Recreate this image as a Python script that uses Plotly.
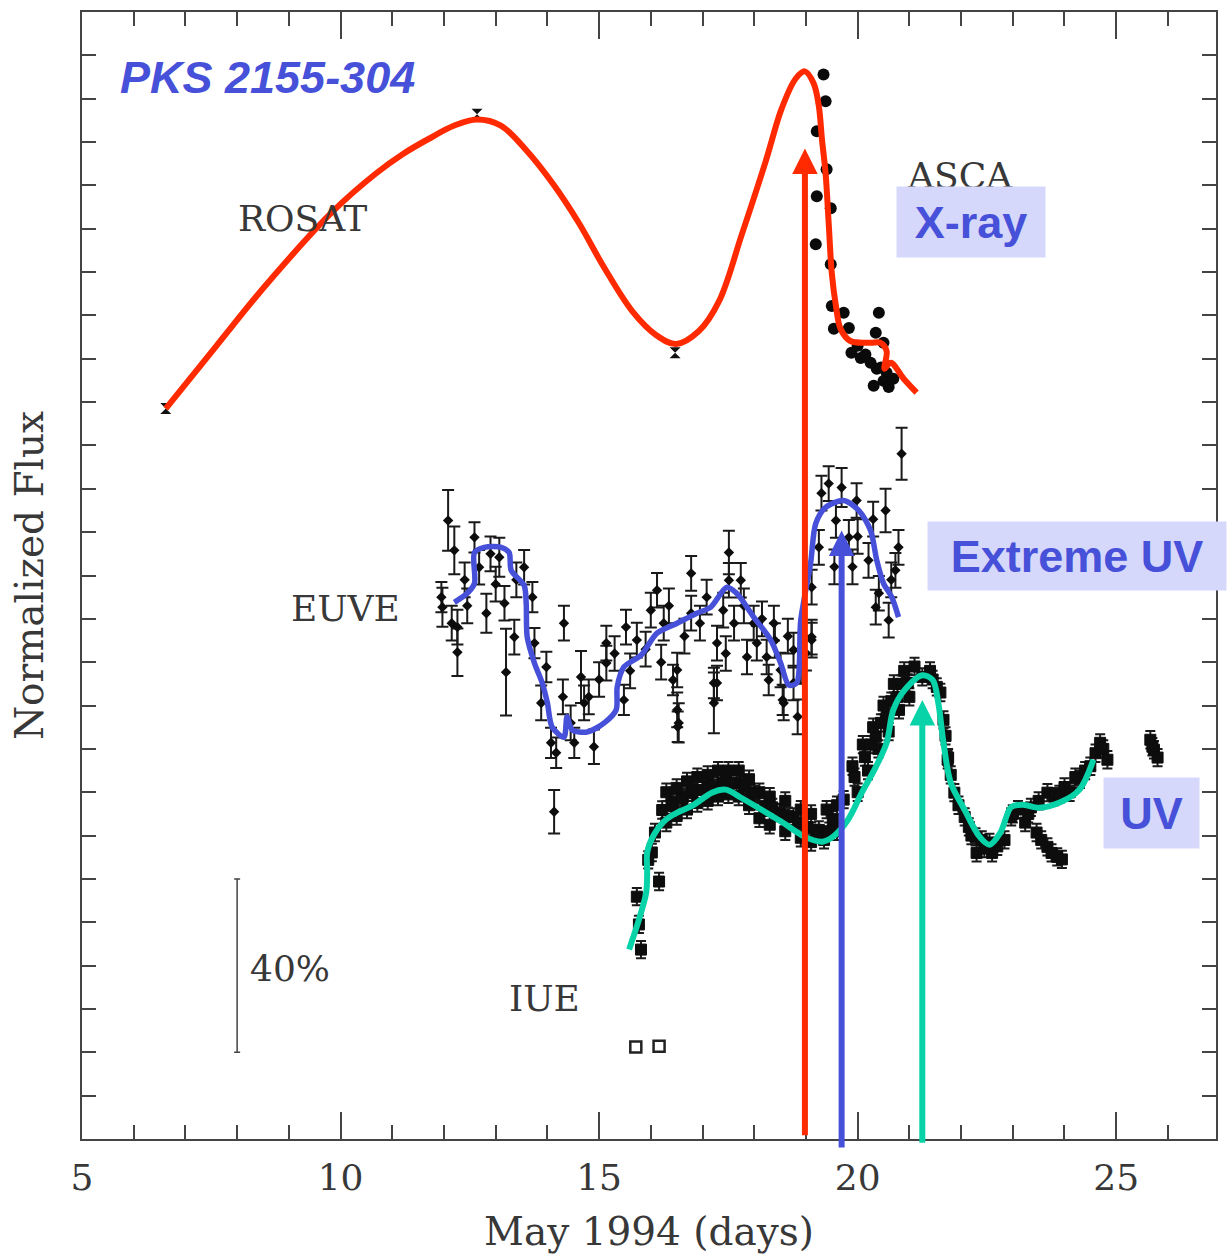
import plotly.graph_objects as go

# ---------------- data (days in May 1994, normalized flux in 10% units) ----------------
rosat_day = [6.62, 12.64, 16.47]
rosat_flux = [16.85, 23.64, 18.14]

asca_day = [19.34, 19.38, 19.21, 19.40, 19.21, 19.48, 19.19, 19.48, 19.50, 19.73, 19.54, 19.83,
            20.41, 20.35, 20.50, 19.88, 20.06, 20.25, 20.37, 20.56, 20.31, 20.50, 20.69,
            20.15, 20.45, 20.60, 20.00]
asca_flux = [24.56, 23.94, 23.25, 22.37, 21.75, 21.47, 20.64, 20.18, 19.22, 19.06, 18.69, 18.71,
             19.06, 18.60, 18.37, 18.14, 18.02, 17.91, 17.77, 17.68, 17.38, 17.49, 17.54,
             18.10, 17.80, 17.35, 18.30]

euve_day = [12.08, 12.20, 11.97, 12.26, 12.26, 11.95, 12.59, 12.82, 12.68, 13.07, 13.17, 13.20,
            13.36, 13.55, 13.71, 13.75, 13.98, 14.32, 13.88, 14.07, 14.17, 14.13, 14.52, 14.65,
            14.71, 14.90, 15.14, 15.14, 15.48, 15.52, 15.73, 16.00, 16.12, 16.25, 16.51, 16.51,
            16.54, 16.78, 16.78, 17.08, 17.28, 17.28, 17.22, 17.51, 17.51, 17.74, 17.61, 17.86,
            17.99, 18.05, 18.24, 18.38, 18.51, 18.57, 18.76, 18.76, 19.11, 16.43, 16.52, 17.22,
            18.55, 18.84, 18.28, 19.44, 19.69, 19.98, 19.58, 19.25, 19.83, 20.21, 20.54, 20.79,
            20.73, 20.41, 20.60, 20.35, 19.11, 19.11, 19.00, 20.85,
            15.30, 15.60, 15.90, 16.20, 16.35, 16.65, 16.95, 17.40, 17.45, 17.80, 18.15, 18.40,
            18.65, 18.90, 12.40, 12.90, 13.40, 13.00, 14.30, 14.45, 14.80, 15.00, 19.30, 19.55,
            20.00, 20.30, 20.65, 19.90, 12.15, 12.45]
euve_flux = [14.27, 13.58, 12.27, 11.81, 11.23, 12.50, 13.88, 12.13, 13.19, 13.42, 12.36, 10.77,
             11.58, 13.19, 12.50, 11.44, 10.89, 11.90, 10.06, 9.14, 8.91, 7.55, 9.14, 10.66,
             10.06, 9.05, 10.98, 11.44, 10.13, 11.81, 11.51, 12.20, 12.66, 11.90, 10.82, 9.90,
             9.60, 13.05, 12.13, 12.50, 11.44, 10.52, 10.06, 13.53, 12.89, 12.89, 11.90, 11.12,
             11.90, 11.44, 11.12, 11.90, 10.82, 10.06, 10.52, 11.28, 11.51, 10.59, 9.51, 10.52,
             10.13, 9.74, 10.59, 15.12, 15.03, 14.73, 14.27, 13.65, 13.88, 13.35, 14.50, 13.65,
             13.12, 12.59, 11.97, 12.27, 12.73, 11.58, 11.21, 15.81,
             11.20, 10.80, 11.30, 11.00, 12.30, 11.60, 11.90, 12.20, 11.20, 12.30, 12.00, 11.50,
             11.60, 10.90, 12.90, 13.50, 12.90, 12.80, 10.20, 9.60, 10.20, 10.60, 14.90, 13.20,
             13.90, 14.30, 12.90, 13.20, 11.90, 12.30]
euve_err = [0.70, 0.55, 0.45, 0.40, 0.55, 0.35, 0.35, 0.45, 0.40, 0.45, 0.40, 1.00,
            0.40, 0.40, 0.35, 0.35, 0.35, 0.40, 0.40, 0.35, 0.35, 0.50, 0.35, 0.60,
            0.40, 0.40, 0.40, 0.40, 0.35, 0.40, 0.40, 0.40, 0.40, 0.40, 0.40, 0.40,
            0.45, 0.40, 0.40, 0.40, 0.40, 0.40, 0.70, 0.50, 0.40, 0.40, 0.40, 0.40,
            0.40, 0.40, 0.40, 0.40, 0.40, 0.40, 0.40, 0.40, 0.40, 0.35, 0.35, 0.35,
            0.35, 0.40, 0.35, 0.40, 0.45, 0.40, 0.40, 0.40, 0.40, 0.40, 0.50, 0.40,
            0.40, 0.40, 0.40, 0.40, 0.40, 0.40, 0.40, 0.60,
            0.40, 0.40, 0.40, 0.40, 0.40, 0.40, 0.40, 0.40, 0.40, 0.40, 0.40, 0.40,
            0.40, 0.40, 0.40, 0.40, 0.40, 0.40, 0.40, 0.40, 0.40, 0.40, 0.40, 0.40,
            0.40, 0.40, 0.40, 0.40, 0.40, 0.40]

iue_day = [15.81, 15.77, 15.73, 16.16, 16.02, 15.95, 16.08, 16.22, 16.43, 16.62,
           16.83, 17.10, 17.39, 17.66, 17.93, 18.20, 18.49, 18.76, 19.03, 19.25, 19.52, 19.73,
           19.94, 20.14, 20.35, 20.56, 20.77, 20.97, 21.25, 21.53, 21.66, 21.74, 21.87, 22.07,
           22.28, 22.55, 22.84, 22.97, 23.24, 23.46, 23.67, 23.86, 23.67, 24.00, 24.21, 24.69,
           24.83, 25.73, 25.66,
           16.3, 16.5, 16.7, 16.9, 17.1, 17.3, 17.5, 17.7, 17.9, 18.1, 18.3, 18.6, 18.9, 19.1,
           19.4, 19.6, 19.9, 20.1, 20.3, 20.5, 20.7, 20.9, 21.1, 21.4, 21.6, 23.1, 23.3, 23.5,
           23.8, 24.1, 24.4, 24.6, 24.75, 25.8,
           16.3, 16.5, 16.7, 16.9, 17.1, 17.3, 17.5, 17.7, 17.9, 18.1, 18.3, 18.6, 18.9, 19.1,
           19.35, 19.6, 20.0, 20.2, 20.4, 20.6, 20.8, 21.0, 21.7, 21.8, 21.95, 22.15, 22.4, 22.7,
           23.55, 23.75, 23.95, 22.3, 22.6,
           16.4, 16.6, 16.8, 17.0, 17.2, 17.45, 17.55, 17.8, 18.0, 18.35, 18.65, 18.85, 19.2,
           19.45, 20.25, 20.45, 20.65, 20.85, 21.45, 21.75, 22.2, 22.45, 23.0, 23.35, 23.9, 24.3,
           24.5, 25.7]
iue_flux = [4.37, 4.95, 5.59, 5.94, 6.61, 6.44, 7.07, 7.59, 7.76, 7.89,
            8.06, 8.12, 8.22, 8.22, 7.99, 7.66, 7.53, 7.43, 7.20, 7.13, 7.36, 7.83,
            8.35, 8.81, 9.28, 9.74, 10.20, 10.52, 10.66, 10.43, 9.67, 8.75, 7.99, 7.43,
            6.97, 6.84, 6.90, 7.43, 7.30, 7.07, 6.74, 6.51, 7.99, 8.12, 8.35, 9.14,
            8.75, 8.98, 9.21,
            8.0, 8.1, 8.25, 8.35, 8.4, 8.5, 8.5, 8.5, 8.3, 8.0, 7.9, 7.8, 7.6, 7.5,
            7.6, 7.7, 8.6, 9.1, 9.5, 10.0, 10.5, 10.8, 10.9, 10.8, 10.3, 7.6, 7.5, 7.8,
            7.9, 8.0, 8.5, 8.9, 9.0, 8.8,
            7.3, 7.45, 7.6, 7.75, 7.8, 7.9, 7.95, 7.9, 7.7, 7.4, 7.25, 7.1, 6.95, 6.85,
            6.9, 7.1, 8.0, 8.5, 9.0, 9.4, 9.9, 10.2, 9.3, 8.4, 7.7, 7.2, 6.9, 6.75,
            6.9, 6.6, 6.45, 6.6, 6.6,
            7.7, 7.85, 8.0, 8.05, 8.15, 8.25, 8.2, 8.15, 7.95, 7.65, 7.45, 7.3, 7.05,
            7.1, 9.1, 9.6, 10.1, 10.5, 10.6, 8.8, 7.0, 6.7, 7.5, 7.65, 7.95, 8.3,
            8.6, 9.05]
iue_early_day = [15.71, 16.16]
iue_early_flux = [2.12, 2.14]

# hand-drawn trend curves
xray_day = [6.62, 7.60, 8.57, 9.85, 10.69, 11.20, 11.70, 12.20, 12.64, 13.10, 13.60, 14.10,
            14.60, 15.10, 15.64, 16.10, 16.49, 16.93, 17.32, 17.76, 18.22, 18.53, 18.80, 18.98,
            19.15, 19.25, 19.31, 19.38, 19.44, 19.50, 19.58, 19.67, 19.86, 20.25, 20.44, 20.56,
            20.52, 20.64, 20.89, 21.14]
xray_flux = [16.85, 18.30, 19.72, 21.40, 22.28, 22.72, 23.07, 23.38, 23.52, 23.38, 22.80, 22.05,
             21.15, 20.10, 19.10, 18.55, 18.34, 18.64, 19.33, 20.87, 22.55, 23.77, 24.46, 24.63,
             24.35, 23.82, 23.06, 22.28, 21.13, 19.98, 19.22, 18.69, 18.41, 18.37, 18.37, 18.18,
             17.77, 17.91, 17.54, 17.22]

euv_day = [12.20, 12.45, 12.59, 12.59, 12.78, 13.11, 13.26, 13.30, 13.55, 13.59, 13.61, 13.75,
           13.90, 14.00, 14.09, 14.32, 14.38, 14.48, 14.77, 15.10, 15.33, 15.35, 15.48, 15.81,
           16.12, 16.51, 16.89, 17.16, 17.47, 17.66, 17.99, 18.32, 18.51, 18.67, 18.82, 18.90,
           19.09, 19.19, 19.38, 19.73, 20.02, 20.25, 20.37, 20.50, 20.66, 20.79]
euv_flux = [12.38, 12.59, 12.82, 13.53, 13.65, 13.65, 13.53, 13.12, 12.77, 12.36, 11.58, 10.98,
            10.52, 10.06, 9.51, 9.27, 9.74, 9.44, 9.39, 9.60, 9.90, 10.43, 10.89, 11.16,
            11.67, 11.90, 12.13, 12.27, 12.73, 12.59, 12.04, 11.51, 10.98, 10.47, 10.52, 11.97,
            13.28, 14.20, 14.57, 14.73, 14.50, 14.04, 13.35, 12.82, 12.50, 12.04]

uv_day = [15.58, 15.77, 15.91, 15.93, 15.93, 16.06, 16.25, 16.43, 16.83, 17.18, 17.45, 17.72,
          18.15, 18.55, 18.98, 19.32, 19.52, 19.81, 20.08, 20.35, 20.56, 20.69, 20.91, 21.25,
          21.45, 21.56, 21.66, 21.80, 22.07, 22.36, 22.55, 22.76, 22.97, 23.19, 23.51, 23.94,
          24.29, 24.56]
uv_flux = [4.37, 5.06, 5.68, 6.15, 6.61, 7.02, 7.32, 7.48, 7.71, 7.99, 8.06, 7.89,
           7.59, 7.30, 6.97, 6.86, 6.97, 7.36, 7.99, 8.58, 9.14, 9.90, 10.36, 10.70,
           10.59, 10.06, 9.14, 8.22, 7.59, 6.97, 6.79, 7.07, 7.66, 7.71, 7.64, 7.78,
           8.06, 8.75]

# peak-time arrows: day, tip flux, tail flux
arrow_day = [18.98, 19.69, 21.25]
arrow_tip = [22.85, 14.04, 10.13]
arrow_tail = [0.05, -0.23, -0.12]

scale_bar_day = [8.0]
scale_bar_mid = [4.0]
scale_bar_half = [2.0]

RED = "#FF2A00"
BLUE = "#4650D8"
GREEN = "#08D3A8"
LABEL_BG = "#D5D7FB"
SERIF = "DejaVu Serif"
SANS = "Liberation Sans, Arial, sans-serif"
INK = "#383838"

fig = go.Figure()

# data points
fig.add_trace(go.Scatter(x=euve_day, y=euve_flux, mode="markers",
                         marker=dict(symbol="diamond", size=8, color="#0d0d0d"),
                         error_y=dict(type="data", array=euve_err, color="#1a1a1a", thickness=2, width=6),
                         showlegend=False))
fig.add_trace(go.Scatter(x=iue_day, y=iue_flux, mode="markers",
                         marker=dict(symbol="square", size=11, color="#0d0d0d",
                                     line=dict(width=1, color="#0d0d0d")),
                         error_y=dict(type="constant", value=0.2, color="#1a1a1a", thickness=2, width=5),
                         showlegend=False))
fig.add_trace(go.Scatter(x=iue_early_day, y=iue_early_flux, mode="markers",
                         marker=dict(symbol="square-open", size=11, color="#222", line=dict(width=2.5)),
                         showlegend=False))
fig.add_trace(go.Scatter(x=asca_day, y=asca_flux, mode="markers",
                         marker=dict(symbol="circle", size=12, color="#0a0a0a"), showlegend=False))
fig.add_trace(go.Scatter(x=rosat_day, y=rosat_flux, mode="markers",
                         marker=dict(symbol="hourglass", size=11, color="#111"), showlegend=False))

# scale bar (40%)
fig.add_trace(go.Scatter(x=scale_bar_day, y=scale_bar_mid, mode="markers",
                         marker=dict(size=1, color="rgba(0,0,0,0)"),
                         error_y=dict(type="data", array=scale_bar_half, color="#444", thickness=1.5, width=3),
                         showlegend=False))

# trend curves
fig.add_trace(go.Scatter(x=xray_day, y=xray_flux, mode="lines",
                         line=dict(color=RED, width=6, shape="spline", smoothing=1.0), showlegend=False))
fig.add_trace(go.Scatter(x=euv_day, y=euv_flux, mode="lines",
                         line=dict(color=BLUE, width=5.5, shape="spline", smoothing=0.8), showlegend=False))
fig.add_trace(go.Scatter(x=uv_day, y=uv_flux, mode="lines",
                         line=dict(color=GREEN, width=6, shape="spline", smoothing=0.9), showlegend=False))

annotations = []
for d, tip, tail, col in zip(arrow_day, arrow_tip, arrow_tail, [RED, BLUE, GREEN]):
    annotations.append(dict(x=d, y=tip, ax=d, ay=tail, xref="x", yref="y", axref="x", ayref="y",
                            text="", showarrow=True, arrowhead=2, arrowsize=0.85, arrowwidth=6,
                            arrowcolor=col, standoff=0))

def serif_label(txt, x, y):
    return dict(x=x, y=y, xref="x", yref="y", text=txt, showarrow=False,
                font=dict(family=SERIF, size=36, color=INK), xanchor="center", yanchor="middle")

annotations += [
    serif_label("ROSAT", 9.27, 21.24),
    serif_label("ASCA", 21.97, 22.22),
    serif_label("EUVE", 10.10, 12.24),
    serif_label("IUE", 13.94, 3.25),
    serif_label("40%", 9.03, 3.94),
]

annotations.append(dict(x=5.69, y=24.49, xref="x", yref="y", text="<b><i>PKS 2155-304</i></b>",
                        showarrow=False, xanchor="left", yanchor="middle",
                        font=dict(family=SANS, size=45, color=BLUE)))

def box_label(txt, x, y, w, h):
    return dict(x=x, y=y, xref="x", yref="y", text="<b>" + txt + "</b>", showarrow=False,
                xanchor="center", yanchor="middle", width=w, height=h, borderpad=4,
                bgcolor=LABEL_BG, font=dict(family=SANS, size=45, color=BLUE))

annotations += [
    box_label("X-ray", 22.20, 21.15, 140, 62),
    box_label("Extreme UV", 24.25, 13.44, 290, 60),
    box_label("UV", 25.69, 7.53, 87, 62),
]

axis_common = dict(showline=True, linecolor="#444", linewidth=2, mirror="ticks",
                   ticks="inside", tickcolor="#444", tickwidth=2, showgrid=False, zeroline=False)

fig.update_layout(
    width=1228, height=1256,
    margin=dict(l=82, r=10, t=10, b=116),
    plot_bgcolor="white", paper_bgcolor="white",
    showlegend=False,
    annotations=annotations,
    xaxis=dict(range=[5, 26.93], tick0=5, dtick=5, ticklen=27, ticklabelstandoff=6,
               minor=dict(dtick=1, ticklen=14, ticks="inside", tickcolor="#444", tickwidth=2),
               tickfont=dict(family=SERIF, size=36, color=INK),
               title=dict(text="May 1994 (days)", font=dict(family=SERIF, size=39, color=INK), standoff=20),
               **axis_common),
    yaxis=dict(range=[0, 26], tick0=0, dtick=1, ticklen=14, showticklabels=False,
               title=dict(text="Normalized Flux", font=dict(family=SERIF, size=39, color=INK), standoff=24),
               **axis_common),
)

fig.write_html("out.html", config={"displayModeBar": False},
               post_script="document.body.style.margin='0';document.body.style.overflow='hidden';")
